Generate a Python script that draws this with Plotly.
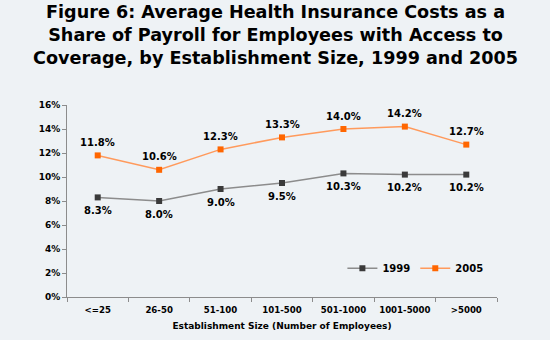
import plotly.graph_objects as go

sizes = ["<=25", "26-50", "51-100", "101-500", "501-1000", "1001-5000", ">5000"]
cost_1999 = [8.3, 8.0, 9.0, 9.5, 10.3, 10.2, 10.2]
cost_2005 = [11.8, 10.6, 12.3, 13.3, 14.0, 14.2, 12.7]
y_ticks = [0, 2, 4, 6, 8, 10, 12, 14, 16]

FONT = "DejaVu Sans"
BG = "#EEF2F5"
LABEL_FONT = dict(family=FONT, size=10, color="#000000", weight="bold")

fig = go.Figure()

fig.add_trace(go.Scatter(
    x=sizes, y=cost_1999, name="1999", mode="lines+markers",
    line=dict(color="#8C8C8C", width=1.5),
    marker=dict(symbol="square", size=6, color="#3A3A3A"),
))
fig.add_trace(go.Scatter(
    x=sizes, y=cost_2005, name="2005", mode="lines+markers",
    line=dict(color="#FF9A5C", width=1.5),
    marker=dict(symbol="square", size=6, color="#FF6600"),
))

# value labels: 1999 below the line, 2005 above
for s, v in zip(sizes, cost_1999):
    fig.add_annotation(x=s, y=v, text=f"{v:.1f}%", showarrow=False,
                       yshift=-13, font=LABEL_FONT)
for s, v in zip(sizes, cost_2005):
    fig.add_annotation(x=s, y=v, text=f"{v:.1f}%", showarrow=False,
                       yshift=13, font=LABEL_FONT)

fig.add_annotation(
    text="Figure 6: Average Health Insurance Costs as a<br>"
         "Share of Payroll for Employees with Access to<br>"
         "Coverage, by Establishment Size, 1999 and 2005",
    xref="paper", yref="paper", x=0.485, y=1.545,
    xanchor="center", yanchor="top", showarrow=False,
    font=dict(family=FONT, size=17.6, color="#000000", weight="bold"),
)

fig.update_layout(
    width=550, height=340,
    paper_bgcolor=BG, plot_bgcolor=BG,
    margin=dict(l=67, r=53, t=105, b=43, autoexpand=False),
    font=dict(family=FONT, color="#000000"),
    showlegend=True,
    legend=dict(
        orientation="h", x=0.98, xanchor="right", y=0.15, yanchor="middle",
        bgcolor="rgba(0,0,0,0)",
        font=dict(family=FONT, size=10, color="#000000", weight="bold"),
        itemwidth=30,
    ),
    xaxis=dict(
        type="category", range=[-0.5, 6.5],
        showgrid=False, zeroline=False,
        showline=True, linecolor="#8C8C8C", linewidth=1,
        ticks="outside", ticklen=4, tickcolor="#8C8C8C",
        tickson="boundaries", tickangle=0, automargin=False,
        ticklabelstandoff=5,
        tickfont=dict(family=FONT, size=8.6, color="#000000", weight="bold"),
        title=dict(text="Establishment Size (Number of Employees)",
                   font=dict(family=FONT, size=9, color="#000000", weight="bold"),
                   standoff=8),
    ),
    yaxis=dict(
        range=[0, 16], tickvals=y_ticks,
        ticktext=[f"{t}%" for t in y_ticks],
        showgrid=False, zeroline=False, automargin=False,
        showline=True, linecolor="#8C8C8C", linewidth=1,
        ticks="outside", ticklen=4, tickcolor="#8C8C8C",
        tickfont=dict(family=FONT, size=9, color="#000000", weight="bold"),
    ),
)

fig.write_html("out.html")
